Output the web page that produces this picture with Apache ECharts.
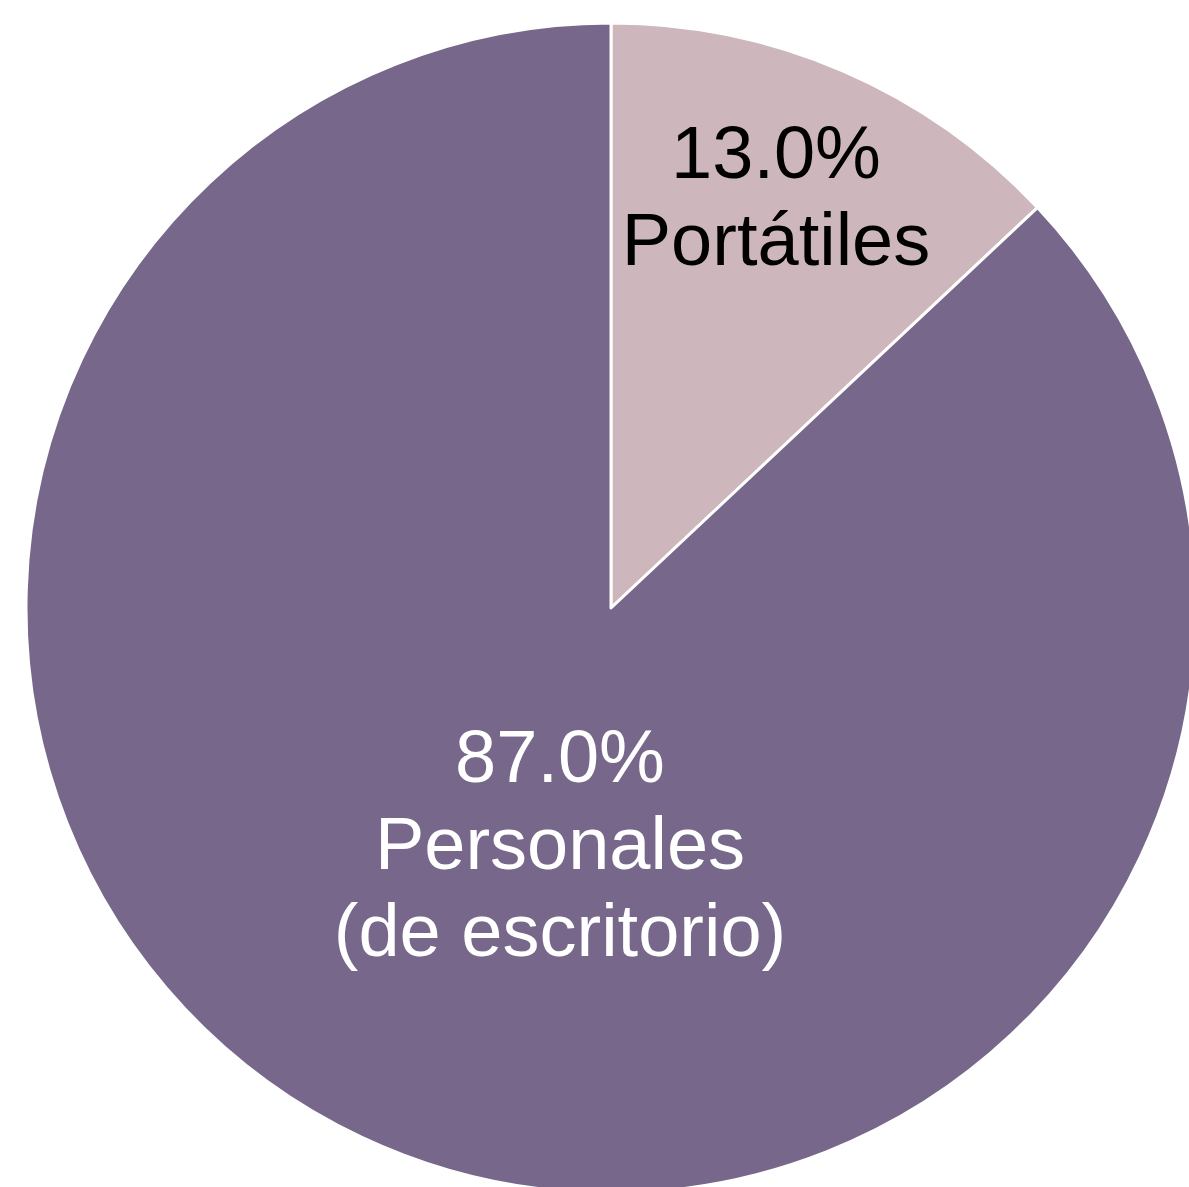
<!DOCTYPE html>
<html>
<head>
<meta charset="utf-8">
<script src="https://cdn.jsdelivr.net/npm/echarts@6/dist/echarts.min.js"></script>
<style>
  html, body { margin: 0; padding: 0; background: #ffffff; }
  #chart { width: 1189px; height: 1187px; }
</style>
</head>
<body>
<div id="chart"></div>
<script>
var categories = ['Portátiles', 'Personales\n(de escritorio)'];
var shares = [13.0, 87.0];
var sliceColors = ['#cdb6bc', '#76678b'];
var labelColors = ['#000000', '#ffffff'];
// where the labels sit in the picture (x, y of the label block centre)
var labelSpots = [[776, 201], [560, 849]];

var chart = echarts.init(document.getElementById('chart'), null, { renderer: 'canvas' });

var pieData = categories.map(function (name, i) {
    return {
        name: name,
        value: shares[i],
        itemStyle: { color: sliceColors[i] },
        label: { color: labelColors[i] }
    };
});

var option = {
    backgroundColor: '#ffffff',
    animation: false,
    series: [
        {
            type: 'pie',
            center: [611, 608],
            radius: [0, 585],
            startAngle: 90,
            clockwise: true,
            avoidLabelOverlap: false,
            itemStyle: {
                borderColor: '#ffffff',
                borderWidth: 3
            },
            label: {
                show: true,
                position: 'inside',
                fontFamily: 'Liberation Sans, Arial, sans-serif',
                fontSize: 74,
                lineHeight: 87,
                align: 'center',
                formatter: function (p) {
                    return p.value.toFixed(1) + '%\n' + p.name;
                }
            },
            labelLine: { show: false },
            labelLayout: function (params) {
                var spot = labelSpots[params.dataIndex];
                return { x: spot[0], y: spot[1], align: 'center', verticalAlign: 'middle' };
            },
            emphasis: { disabled: true },
            data: pieData
        }
    ]
};

chart.setOption(option);
</script>
</body>
</html>
